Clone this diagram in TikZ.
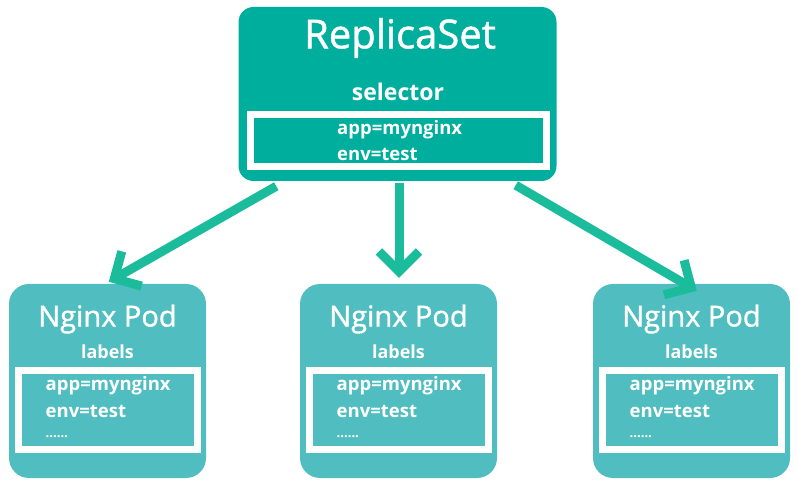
\documentclass[tikz,border=0pt]{standalone}
\usepackage{fontspec}
\setmainfont{Open Sans}
\newfontfamily\podtitle[FakeBold=1.2]{Open Sans}
\usetikzlibrary{arrows.meta,calc}
\definecolor{rsfill}{RGB}{0,174,157}
\definecolor{podfill}{RGB}{80,190,192}
\definecolor{arrowc}{RGB}{26,188,156}
\begin{document}
\begin{tikzpicture}[x=1pt,y=-1pt,
  rsbox/.style={fill=rsfill, rounded corners=15pt, minimum width=318pt, minimum height=174pt, inner sep=0pt},
  podbox/.style={fill=podfill, rounded corners=20pt, minimum width=197pt, minimum height=194pt, inner sep=0pt},
  whitebox/.style={draw=white, line width=7pt, inner sep=0pt},
  txt/.style={text=white, inner sep=0pt},
  small/.style={txt, font=\fontsize{18.5}{20}\selectfont\bfseries},
  conn/.style={draw=arrowc, line width=9pt, -{Straight Barb[length=20pt,width=40pt]}}
]
\useasboundingbox (0,0) rectangle (798,486);
% ReplicaSet
\node[rsbox] (rs) at (397.5,94) {};
\node[whitebox, minimum width=296pt, minimum height=52pt] (rsin) at (398.5,140.5) {};
\node[txt, font=\podtitle\fontsize{40}{42}\selectfont] (rst) at (400,38) {ReplicaSet};
\node[txt, font=\fontsize{23}{25}\selectfont\bfseries] (sel) at (398,92) {selector};
\node[small, anchor=west] (rs1) at (337,130) {app=mynginx};
\node[small, anchor=west] (rs2) at (337,154) {env=test};

% Pods
\foreach \n/\cx in {p1/107.5, p2/398.5, p3/691.5}{
  \node[podbox] (\n) at (\cx,381) {};
  \node[whitebox, minimum width=179pt, minimum height=79pt] (\n in) at (\cx,410) {};
  \node[txt, font=\podtitle\fontsize{29}{31}\selectfont] (\n t) at (\cx,319) {Nginx Pod};
  \node[small, font=\fontsize{18}{20}\selectfont\bfseries] (\n l) at (\cx,352) {labels};
  \node[small, anchor=west] (\n a) at ($(\cx,386)+(-62,0)$) {app=mynginx};
  \node[small, anchor=west] (\n e) at ($(\cx,411)+(-62,0)$) {env=test};
  \node[txt, anchor=west, font=\fontsize{13}{15}\selectfont\bfseries] (\n d) at ($(\cx,437)+(-62,0)$) {......};
}

% connectors
\coordinate (s1) at ($(rs.south west)+(38,5)$);
\coordinate (e1) at ($(p1.north west)+(100,-2)$);
\coordinate (s2) at ($(rs.south)+(1.5,2)$);
\coordinate (e2) at ($(p2.north)+(0.5,-6)$);
\coordinate (s3) at ($(rs.south east)+(-41,4)$);
\coordinate (e3) at ($(p3.north west)+(104,7)$);
\draw[conn] (s1) -- (e1);
\draw[conn] (s2) -- (e2);
\draw[conn] (s3) -- (e3);
\end{tikzpicture}
\end{document}
